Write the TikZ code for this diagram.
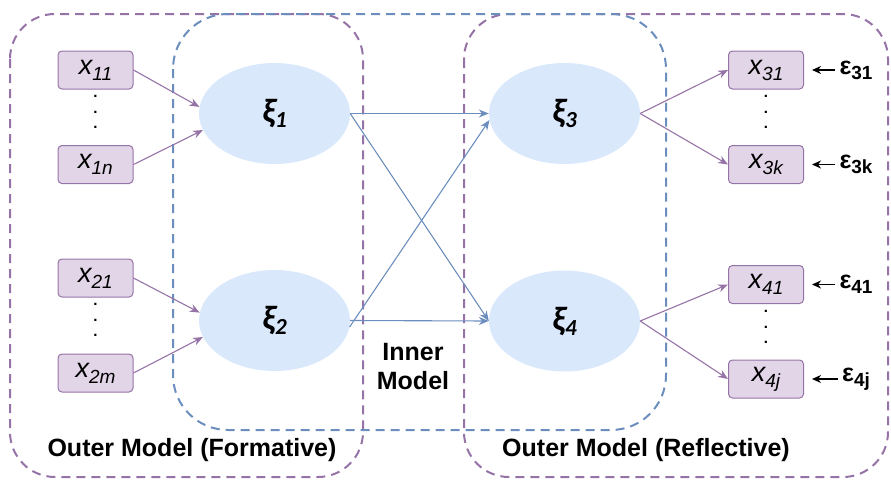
\documentclass[tikz,border=0pt]{standalone}
\usepackage{fontspec}
\setmainfont{Liberation Sans}
\newfontfamily\xifont{Carlito}
\usetikzlibrary{shapes.geometric,arrows.meta}
\definecolor{pline}{HTML}{9673A6}
\definecolor{pfill}{HTML}{E1D5E7}
\definecolor{bline}{HTML}{6C8EBF}
\definecolor{bfill}{HTML}{DAE8FC}
\newcommand\xlab[1]{\fontsize{27}{27}\selectfont\itshape x\raisebox{-6pt}{\fontsize{19}{19}\selectfont #1}}
\newcommand\xilab[1]{\xifont\bfseries\itshape\fontsize{34}{34}\selectfont ξ\raisebox{-5pt}{\fontsize{23}{23}\selectfont #1}}
\newcommand\eplab[1]{\bfseries\fontsize{25}{25}\selectfont ε\raisebox{-5pt}{\fontsize{19}{19}\selectfont #1}}
\begin{document}
\begin{tikzpicture}[x=1pt,y=-1pt,
  pframe/.style={draw=pline,line width=2pt,dash pattern=on 9pt off 6pt,rounded corners=45pt},
  bframe/.style={draw=bline,line width=2pt,dash pattern=on 9pt off 6pt,rounded corners=55pt},
  xbox/.style={draw=pline,fill=pfill,line width=1pt,rounded corners=4pt,minimum width=75pt,minimum height=38pt,inner sep=0pt},
  lv/.style={ellipse,fill=bfill,minimum width=151pt,minimum height=101pt,inner sep=0pt},
  arr/.style={-{Stealth[length=10pt,width=8pt]},line width=1.1pt},
  parr/.style={arr,draw=pline},
  barr/.style={arr,draw=bline},
  earr/.style={-{Stealth[length=9pt,width=8pt]},line width=1.3pt,draw=black,shorten >=8pt},
  vdots/.style={align=center,inner sep=0pt,font=\bfseries\fontsize{15}{15.5}\selectfont},
  eps/.style={inner sep=4pt},
  lbl/.style={font=\bfseries\fontsize{25}{29}\selectfont,align=center}]
\useasboundingbox (0,0) rectangle (891,479);
% frames
\draw[pframe] (10,14) rectangle (363,477);
\draw[pframe] (464,14) rectangle (888,477);
\draw[bframe] (173,14) rectangle (666,430);
% latent variables
\node[lv] (xi1) at (274.5,113.5) {\xilab{1}};
\node[lv] (xi2) at (274.5,320.5) {\xilab{2}};
\node[lv] (xi3) at (564.5,113.5) {\xilab{3}};
\node[lv] (xi4) at (564.5,321) {\xilab{4}};
% indicators
\node[xbox] (x11) at (95.5,70) {\xlab{11}};
\node[xbox] (x1n) at (95.5,164.5) {\xlab{1n}};
\node[xbox] (x21) at (95.5,278) {\xlab{21}};
\node[xbox] (x2m) at (95.5,373) {\xlab{2m}};
\node[xbox] (x31) at (766,70) {\xlab{31}};
\node[xbox] (x3k) at (766,164.5) {\xlab{3k}};
\node[xbox] (x41) at (766,284.5) {\xlab{41}};
\node[xbox] (x4j) at (766,379) {\xlab{4j}};
% dots
\node[vdots] (d1) at (95.5,112) {.\\.\\.};
\node[vdots] (d2) at (95.5,320) {.\\.\\.};
\node[vdots] (d3) at (766,112) {.\\.\\.};
\node[vdots] (d4) at (766,327) {.\\.\\.};
% errors
\node[eps] (e31) at (856,70) {\eplab{31}};
\node[eps] (e3k) at (856,164.5) {\eplab{3k}};
\node[eps] (e41) at (856,284.5) {\eplab{41}};
\node[eps] (e4j) at (856,379) {\eplab{4j}};
% formative arrows
\draw[parr] (x11.east) -- (xi1.175);
\draw[parr] (x1n.east) -- (xi1.193);
\draw[parr] (x21.east) -- (xi2.174);
\draw[parr] (x2m.east) -- (xi2.193);
% reflective arrows
\draw[parr] (xi3.east) -- (x31.west);
\draw[parr] (xi3.east) -- (x3k.west);
\draw[parr] (xi4.east) -- (x41.west);
\draw[parr] (xi4.east) -- (x4j.west);
% inner arrows
\draw[barr] (xi1.east) -- (xi3.west);
\draw[barr] (xi1.east) -- (xi4.west);
\draw[barr] (xi2.-5) -- (xi3.185);
\draw[barr] (xi2.east) -- (xi4.west);
% error arrows
\draw[earr] (e31.west) -- (x31.east);
\draw[earr] (e3k.west) -- (x3k.east);
\draw[earr] (e41.west) -- (x41.east);
\draw[earr] (e4j.west) -- (x4j.east);
% labels
\node[lbl] (inner) at (413,367) {Inner\\Model};
\node[lbl] (form) at (192,450) {Outer Model (Formative)};
\node[lbl] (refl) at (646,450) {Outer Model (Reflective)};
\end{tikzpicture}
\end{document}
